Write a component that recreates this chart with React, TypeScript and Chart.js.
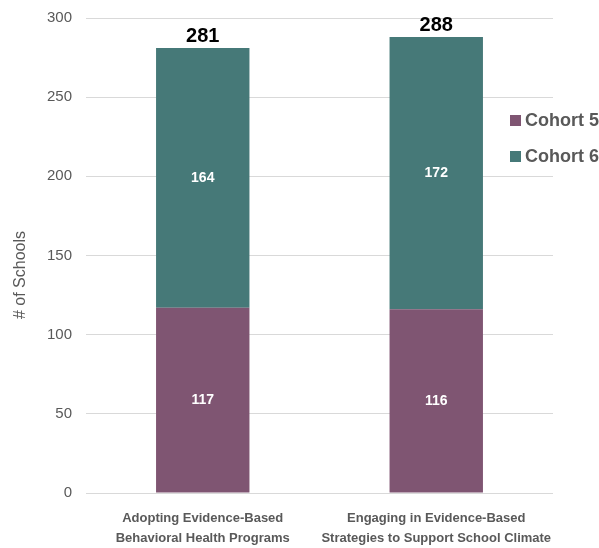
import React, { useEffect, useRef } from "react";
import { Chart, registerables } from "chart.js";

Chart.register(...registerables);

const categories: string[][] = [
  ["Adopting Evidence-Based", "Behavioral Health Programs"],
  ["Engaging in Evidence-Based", "Strategies to Support School Climate"],
];
const cohort5: number[] = [117, 116];
const cohort6: number[] = [164, 172];
const seriesNames: string[] = ["Cohort 5", "Cohort 6"];
const seriesColors: string[] = ["#7f5572", "#467978"];
const yTicks: number[] = [0, 50, 100, 150, 200, 250, 300];
const yTitle = "# of Schools";

const FONT = "'Liberation Sans', Arial, sans-serif";

// Segment values in white, stack totals in black above each bar
const labelPlugin = {
  id: "stackLabels",
  afterDatasetsDraw(chart: any) {
    const ctx = chart.ctx;
    ctx.save();
    ctx.textAlign = "center";
    ctx.textBaseline = "middle";
    chart.data.datasets.forEach((ds: any, di: number) => {
      const meta = chart.getDatasetMeta(di);
      meta.data.forEach((bar: any, i: number) => {
        const cy = (bar.y + bar.base) / 2;
        ctx.fillStyle = "#ffffff";
        ctx.font = `bold 14px ${FONT}`;
        ctx.fillText(String(ds.data[i]), bar.x, cy);
      });
    });
    const top = chart.getDatasetMeta(chart.data.datasets.length - 1);
    top.data.forEach((bar: any, i: number) => {
      const total = chart.data.datasets.reduce((s: number, d: any) => s + d.data[i], 0);
      ctx.fillStyle = "#000000";
      ctx.font = `bold 20px ${FONT}`;
      ctx.textBaseline = "bottom";
      ctx.fillText(String(total), bar.x, chart.scales.y.getPixelForValue(total) - 2);
    });
    ctx.restore();
  },
};

// Legend at the right, overlapping the grid, plus the rotated y-axis title
const sidePlugin = {
  id: "sideLegend",
  afterDraw(chart: any) {
    const ctx = chart.ctx;
    ctx.save();
    ctx.textBaseline = "middle";
    ctx.textAlign = "left";
    ctx.font = `bold 18px ${FONT}`;
    const x = 510;
    chart.data.datasets.forEach((ds: any, i: number) => {
      const y = 121 + i * 36;
      ctx.fillStyle = ds.backgroundColor;
      ctx.fillRect(x, y - 6, 11, 11);
      ctx.fillStyle = "#595959";
      ctx.fillText(ds.label, x + 15, y);
    });
    ctx.restore();

    ctx.save();
    ctx.translate(21, 275);
    ctx.rotate(-Math.PI / 2);
    ctx.textAlign = "center";
    ctx.textBaseline = "middle";
    ctx.font = `16px ${FONT}`;
    ctx.fillStyle = "#595959";
    ctx.fillText(yTitle, 0, 0);
    ctx.restore();
  },
};

export default function App() {
  const ref = useRef<HTMLCanvasElement>(null);
  useEffect(() => {
    if (!ref.current) return;
    const chart = new Chart(ref.current, {
      type: "bar",
      data: {
        labels: categories,
        datasets: [
          { label: seriesNames[0], data: cohort5, backgroundColor: seriesColors[0] },
          { label: seriesNames[1], data: cohort6, backgroundColor: seriesColors[1] },
        ],
      },
      options: {
        animation: false,
        responsive: false,
        maintainAspectRatio: false,
        layout: { padding: { top: 18, right: 46, left: 0, bottom: 0 } },
        datasets: { bar: { barPercentage: 0.4, categoryPercentage: 1 } },
        plugins: { legend: { display: false }, tooltip: { enabled: false } },
        scales: {
          x: {
            stacked: true,
            grid: { display: false },
            border: { display: false },
            ticks: {
              color: "#595959",
              font: { family: FONT, size: 13, weight: "bold", lineHeight: 1.5 },
              padding: 8,
              maxRotation: 0,
              autoSkip: false,
            },
            afterFit: (s: any) => { s.height = 55; },
          },
          y: {
            stacked: true,
            min: 0,
            max: 300,
            afterBuildTicks: (s: any) => { s.ticks = yTicks.map((v) => ({ value: v })); },
            grid: { color: "#d9d9d9", drawTicks: false, lineWidth: 1 },
            border: { display: false },
            ticks: { color: "#595959", font: { family: FONT, size: 15 }, padding: 14 },
            afterFit: (s: any) => {
              s.width = 86;
              s.paddingTop = 0;
              s.paddingBottom = 0;
            },
          },
        },
      },
      plugins: [labelPlugin, sidePlugin],
    });
    return () => chart.destroy();
  }, []);
  return (
    <div style={{ position: "fixed", left: 0, top: 0, width: 599, height: 548, background: "#fff" }}>
      <canvas ref={ref} width={599} height={548} style={{ display: "block" }} />
    </div>
  );
}
